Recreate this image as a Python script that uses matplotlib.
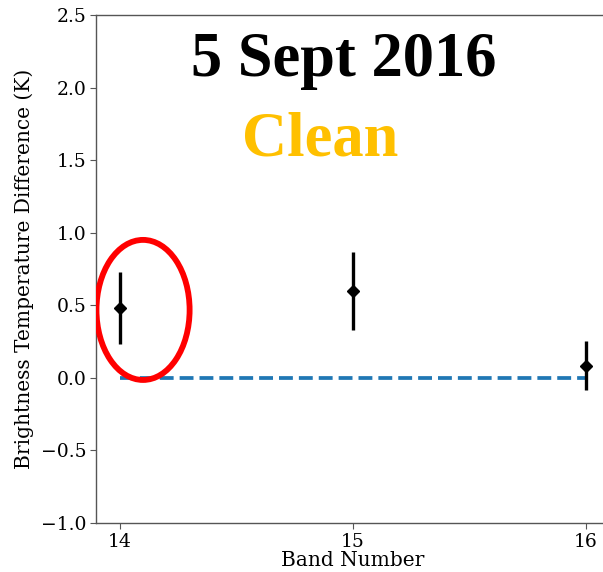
import matplotlib.pyplot as plt
from matplotlib.patches import Ellipse

# band-averaged brightness temperature differences
bands = [14, 15, 16]
tb_diff = [0.48, 0.60, 0.085]
tb_err = [0.25, 0.27, 0.17]

plt.rcParams['font.family'] = 'DejaVu Serif'

fig = plt.figure(figsize=(6.03, 5.72), dpi=100)
ax = fig.add_axes([96 / 603, 49 / 572, 513 / 603, 508 / 572])

ax.plot([bands[0], bands[-1]], [0, 0], color='tab:blue', linestyle='--',
        linewidth=2.7, zorder=1)
ax.errorbar(bands, tb_diff, yerr=tb_err, fmt='D', color='black',
            markersize=6, elinewidth=2.4, capsize=0, zorder=3)

ax.add_patch(Ellipse((14.099, 0.468), 0.40, 0.965, fill=False,
                     edgecolor='red', linewidth=4.2, zorder=4))

ax.set_xlim(13.897, 16.1)
ax.set_ylim(-1.0, 2.5)
ax.set_xticks(bands)
ax.set_yticks([-1.0, -0.5, 0.0, 0.5, 1.0, 1.5, 2.0, 2.5])
ax.tick_params(labelsize=13.5, length=4, color='#555555', pad=3)
for s in ax.spines.values():
    s.set_color('#555555')
    s.set_linewidth(1)

ax.set_xlabel('Band Number', fontsize=14.5, labelpad=0.5)
ax.set_ylabel('Brightness Temperature Difference (K)', fontsize=14.5,
              labelpad=4.5)

fig.text(344 / 603, 1 - 61 / 572, '5 Sept 2016', family='Liberation Serif',
         fontweight='bold', fontsize=45, ha='center', va='center')
fig.text(320 / 603, 1 - 141 / 572, 'Clean', family='Liberation Serif',
         fontweight='bold', fontsize=45, color='#FFC000',
         ha='center', va='center')

fig.savefig('out.png', dpi=100)
